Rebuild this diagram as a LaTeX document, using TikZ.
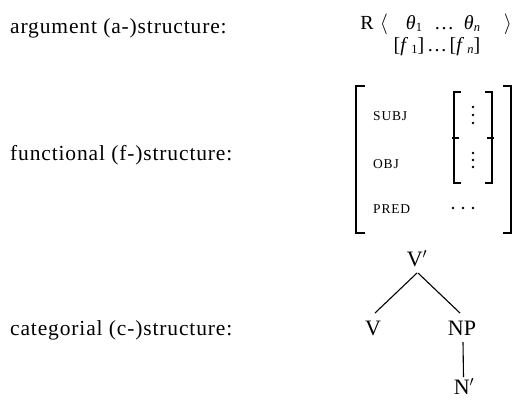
\documentclass[tikz,border=0pt]{standalone}
\usepackage{fontspec}
\setmainfont{Liberation Serif}
\newcommand\lbl{\fontsize{21.5}{24}\selectfont\addfontfeatures{LetterSpace=4}}
\newcommand\frm{\fontsize{20}{22}\selectfont}
\newcommand\attr{\fontsize{13.5}{15}\selectfont\addfontfeatures{LetterSpace=6}}
\newcommand\subs[1]{\raisebox{-0.3ex}{\fontsize{12.5}{13}\selectfont #1}}
\begin{document}
\begin{tikzpicture}[x=1pt,y=-1pt,
  lab/.style={anchor=base west,inner sep=0pt,font=\lbl},
  fm/.style={anchor=base,inner sep=0pt,font=\frm},
  attrnode/.style={anchor=base west,inner sep=0pt,font=\attr},
  cat/.style={anchor=base,inner sep=0pt,font=\fontsize{22}{24}\selectfont},
  brk/.style={line width=1.6pt},
  treeline/.style={line width=1.1pt},
  dotnode/.style={fill=black,circle,inner sep=0pt,minimum size=2.6pt}]
\useasboundingbox (0,0) rectangle (514,400);
% left labels
\node[lab] (la) at (10,33) {argument (a-)structure:};
\node[lab] (lf) at (10,160) {functional (f-)structure:};
\node[lab] (lc) at (10,335) {categorial (c-)structure:};
% a-structure
\node[fm] (R) at (367,29) {R};
\node[fm] (lang) at (384,29) {$\langle$};
\node[fm] (th1) at (414,29) {\itshape θ\subs{\upshape 1}};
\node[fm] (d1) at (444,29) {\dots};
\node[fm] (thn) at (472,29) {\itshape θ\subs{n}};
\node[fm] (rang) at (508,29) {$\rangle$};
\node[fm] (f1) at (409,51) {[\textit{f}\,\subs{1}]};
\node[fm] (d2) at (437,51) {\dots};
\node[fm] (fn) at (465,51) {[\textit{f}\,\subs{\itshape n}]};
% f-structure outer bracket
\draw[brk] (365,86) -- (356,86) -- (356,233) -- (365,233);
\draw[brk] (503,86) -- (511,86) -- (511,233) -- (503,233);
% inner brackets
\draw[brk] (461,92) -- (454,92) -- (454,183) -- (461,183);
\draw[brk] (485,92) -- (492,92) -- (492,183) -- (485,183);
\draw[brk] (452,138) -- (459,138);
\draw[brk] (487,138) -- (494,138);
\node[dotnode] (s1) at (473,107) {};
\node[dotnode] (s2) at (473,115) {};
\node[dotnode] (s3) at (473,123) {};
\node[dotnode] (o1) at (473,153) {};
\node[dotnode] (o2) at (473,160) {};
\node[dotnode] (o3) at (473,167) {};
\node[attrnode] (subj) at (373,120) {SUBJ};
\node[attrnode] (obj) at (373,168) {OBJ};
\node[attrnode] (pred) at (373,213) {PRED};
\node[dotnode] (p1) at (453,208) {};
\node[dotnode] (p2) at (463,208) {};
\node[dotnode] (p3) at (473,208) {};
% c-structure tree
\node[cat] (Vb) at (417,266) {V$'$};
\node[cat] (V) at (373,335) {V};
\node[cat] (NP) at (462,335) {NP};
\node[cat] (Nb) at (464,394) {N$'$};
\draw[treeline] (417,273) -- (375,313);
\draw[treeline] (418,273) -- (460,313);
\draw[treeline] (463,342) -- (463.5,377);
\end{tikzpicture}
\end{document}
